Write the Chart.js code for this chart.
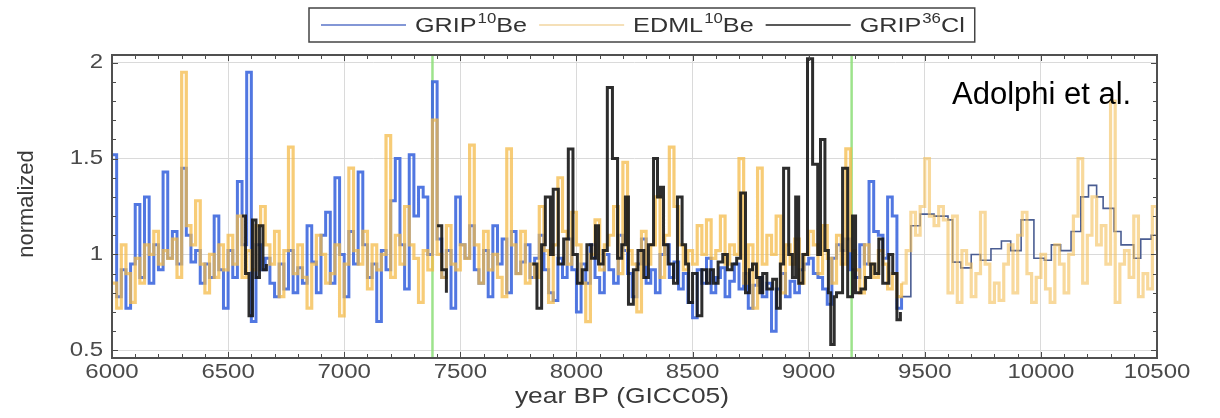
<!DOCTYPE html>
<html>
<head>
<meta charset="utf-8">
<script src="https://cdn.jsdelivr.net/npm/chart.js@4.4.1/dist/chart.umd.min.js"></script>
<style>
  html, body { margin: 0; padding: 0; background: #fff; }
  #wrap { width: 1220px; height: 418px; position: relative; }
</style>
</head>
<body>
<div id="wrap"><canvas id="cosmoChart" width="1220" height="418"></canvas></div>
<script>
// Tick positions
const xTicks = [6000, 6500, 7000, 7500, 8000, 8500, 9000, 9500, 10000, 10500];
const yTicks = [0.5, 1, 1.5, 2];
const markerYears = [7380, 9185];

// GRIP 10Be, [year BP, normalized]
const gripBe = [
  [6000,1.52],[6020,0.78],[6040,0.92],[6060,0.72],[6080,0.95],[6100,1.26],[6120,0.88],[6140,1.30],
  [6160,0.85],[6180,1.05],[6200,0.92],[6220,1.43],[6240,0.98],[6260,1.12],[6280,0.95],[6300,1.45],
  [6320,1.10],[6340,0.96],[6360,1.02],[6380,0.85],[6400,0.95],[6420,0.88],[6440,1.20],[6460,0.92],
  [6480,0.72],[6500,1.02],[6520,0.88],[6540,1.38],[6560,1.05],[6580,1.95],[6600,0.65],[6620,1.05],
  [6640,0.92],[6660,0.98],[6680,0.85],[6700,0.78],[6720,0.95],[6740,0.82],[6760,1.02],[6780,0.80],
  [6800,0.93],[6820,0.85],[6840,1.15],[6860,0.96],[6880,0.80],[6900,1.10],[6920,1.22],[6940,0.85],
  [6960,1.40],[6980,1.00],[7000,0.78],[7020,1.12],[7040,0.95],[7060,1.43],[7080,1.05],[7100,0.88],
  [7120,0.95],[7140,0.65],[7160,1.02],[7180,0.92],[7200,1.28],[7220,1.50],[7240,1.05],[7260,0.82],
  [7280,1.52],[7300,1.20],[7320,1.35],[7340,1.30],[7360,1.00],[7380,1.90],[7400,1.08],[7420,0.88],
  [7440,1.02],[7460,0.72],[7480,1.30],[7500,1.05],[7520,0.98],[7540,1.15],[7560,0.92],[7580,0.85],
  [7600,1.02],[7620,0.78],[7640,1.15],[7660,0.95],[7680,1.08],[7700,0.80],[7720,1.12],[7740,0.90],
  [7760,0.96],[7780,1.05],[7800,0.88],[7820,0.98],[7840,1.10],[7860,0.92],[7880,0.80],[7900,0.76],
  [7920,0.98],[7940,0.88],[7960,1.08],[7980,0.92],[8000,0.70],[8020,0.95],[8040,0.85],[8060,1.05],
  [8080,0.88],[8100,0.80],[8120,1.00],[8140,0.92],[8160,0.85],[8180,1.10],[8200,1.02],[8220,0.90],
  [8240,0.78],[8260,0.95],[8280,1.08],[8300,0.85],[8320,0.92],[8340,0.80],[8360,1.00],[8380,1.05],
  [8400,0.88],[8420,0.96],[8440,0.82],[8460,0.90],[8480,0.75],[8500,0.67],[8520,0.92],[8540,0.85],
  [8560,0.98],[8580,0.80],[8600,0.88],[8620,0.93],[8640,0.78],[8660,0.86],[8680,0.95],[8700,0.82],
  [8720,0.90],[8740,0.72],[8760,0.84],[8780,0.88],[8800,0.78],[8820,0.85],[8840,0.60],[8860,0.82],
  [8880,0.90],[8900,0.78],[8920,0.86],[8940,0.80],[8960,0.92],[8980,0.95],[9000,0.98],[9020,0.90],
  [9040,0.88],[9060,0.82],[9080,0.74],[9100,0.98],[9120,1.05],[9140,1.02],[9160,1.08],[9180,0.92],
  [9200,0.88],[9220,1.05],[9240,0.95],[9260,1.38],[9280,1.12],[9300,1.10],[9320,0.98],[9340,1.30],
  [9360,1.20],[9380,0.72],[9400,0.78],
  // lower resolution part
  [9440,1.15],[9480,1.21],[9540,1.20],[9600,1.18],[9620,0.96],[9655,0.93],[9700,1.00],[9740,0.97],
  [9785,1.03],[9830,1.07],[9870,1.02],[9915,1.18],[9970,0.98],[10015,0.97],[10045,1.05],[10085,1.02],
  [10130,1.12],[10172,1.30],[10205,1.36],[10240,1.30],[10268,1.24],[10315,1.12],[10345,1.05],
  [10400,0.98],[10430,1.08],[10475,1.10],[10500,1.10]
];

// EDML 10Be
const edmlBe = [
  [6000,0.85],[6020,0.72],[6040,1.05],[6060,0.90],[6080,0.75],[6100,0.98],[6120,0.85],[6140,1.05],
  [6160,1.00],[6180,1.12],[6200,0.95],[6220,1.02],[6240,0.98],[6260,1.08],[6280,0.88],[6300,1.95],
  [6320,1.15],[6340,1.05],[6360,1.28],[6380,0.95],[6400,0.80],[6420,1.00],[6440,0.88],[6460,1.05],
  [6480,0.92],[6500,1.10],[6520,0.95],[6540,1.20],[6560,0.88],[6580,1.02],[6600,0.92],[6620,1.15],
  [6640,1.25],[6660,1.05],[6680,0.95],[6700,1.12],[6720,0.78],[6740,1.02],[6760,1.56],[6780,0.90],
  [6800,1.05],[6820,0.88],[6840,0.72],[6860,0.95],[6880,1.10],[6900,1.00],[6920,0.85],[6940,0.90],
  [6960,1.05],[6980,0.68],[7000,0.95],[7020,1.45],[7040,1.02],[7060,0.95],[7080,1.12],[7100,0.82],
  [7120,1.05],[7140,0.92],[7160,1.00],[7180,1.62],[7200,0.88],[7220,1.10],[7240,0.95],[7260,1.25],
  [7280,1.05],[7300,0.98],[7320,0.75],[7340,1.02],[7360,0.92],[7380,1.70],[7400,1.00],[7420,0.88],
  [7440,1.15],[7460,0.95],[7480,0.92],[7500,1.05],[7520,0.98],[7540,1.57],[7560,1.05],[7580,0.85],
  [7600,1.12],[7620,0.92],[7640,1.00],[7660,0.88],[7680,0.78],[7700,1.55],[7720,1.05],[7740,0.90],
  [7760,1.12],[7780,0.85],[7800,0.95],[7820,0.88],[7840,1.25],[7860,1.02],[7880,0.75],[7900,1.05],
  [7920,1.40],[7940,1.12],[7960,0.95],[7980,1.22],[8000,1.05],[8020,0.85],[8040,0.65],[8060,1.00],
  [8080,1.18],[8100,0.92],[8120,1.05],[8140,1.10],[8160,1.25],[8180,0.90],[8200,1.48],[8220,1.02],
  [8240,0.95],[8260,0.70],[8280,1.12],[8300,0.95],[8320,1.05],[8340,1.30],[8360,0.88],[8380,1.10],
  [8400,1.56],[8420,1.25],[8440,1.05],[8460,0.92],[8480,1.02],[8500,0.95],[8520,1.15],[8540,1.00],
  [8560,1.18],[8580,0.98],[8600,1.02],[8620,1.20],[8640,0.95],[8660,1.05],[8680,1.00],[8700,1.50],
  [8720,0.85],[8740,1.05],[8760,0.72],[8780,1.45],[8800,0.95],[8820,1.10],[8840,1.00],[8860,1.20],
  [8880,0.80],[8900,1.05],[8920,0.95],[8940,1.08],[8960,0.85],[8980,1.00],[9000,1.12],[9020,1.05],
  [9040,0.90],[9060,1.15],[9080,0.98],[9100,0.85],[9120,1.10],[9140,0.95],[9160,1.55],[9180,1.02],
  [9200,0.92],[9220,0.80],[9240,1.05],[9260,0.95],[9280,0.88],[9300,1.02],[9320,0.95],[9340,0.82],
  [9360,0.90],[9380,0.78],[9400,0.85],[9420,1.02],[9440,1.22],[9460,1.10],[9480,1.25],[9500,1.50],
  [9520,1.20],[9540,1.15],[9560,1.25],[9580,1.18],[9600,0.80],[9620,1.20],[9640,0.75],[9660,1.02],
  [9680,0.95],[9700,0.78],[9720,0.90],[9740,1.22],[9760,0.95],[9780,0.75],[9800,0.85],[9820,0.76],
  [9840,0.95],[9860,1.05],[9880,0.80],[9900,1.10],[9920,1.22],[9940,0.90],[9960,0.75],[9980,0.88],
  [10000,1.00],[10020,0.82],[10040,0.75],[10060,1.05],[10080,0.95],[10100,0.80],[10120,1.00],[10140,1.20],
  [10160,1.50],[10180,0.85],[10200,1.10],[10220,1.30],[10240,1.05],[10260,1.15],[10280,0.95],[10300,1.80],
  [10320,0.75],[10340,0.95],[10360,1.02],[10380,0.88],[10400,1.20],[10420,0.78],[10440,0.90],[10460,0.82],
  [10480,1.25],[10500,1.02]
];

// GRIP 36Cl (null = gap)
const gripCl = [
  [6560,1.20],[6575,0.90],[6590,0.68],[6605,1.18],[6620,0.88],[6635,1.15],[6650,0.92],[6665,0.95],[6670,null],
  [7400,1.15],[7420,0.92],[7440,0.80],[7450,null],
  [7810,0.95],[7830,0.72],
  [7850,1.05],[7866,1.30],[7888,1.00],[7900,1.34],[7922,0.95],[7945,1.08],[7965,1.55],[7985,1.00],
  [8004,0.85],[8025,0.92],[8045,1.05],[8065,0.98],[8082,1.15],[8095,0.95],[8115,1.02],[8133,1.87],
  [8155,1.50],[8177,0.98],[8195,1.05],[8211,1.30],[8224,0.74],[8245,0.92],[8265,1.02],[8290,0.88],
  [8310,1.05],[8332,1.50],[8349,1.30],[8362,1.35],[8375,1.05],[8395,0.95],[8418,0.85],[8435,1.30],
  [8455,1.05],[8470,0.95],[8483,0.75],[8500,0.90],[8520,0.68],[8540,0.92],[8560,0.85],[8575,0.92],
  [8590,0.85],[8610,0.96],[8630,1.00],[8650,0.92],[8670,0.95],[8690,0.98],[8707,1.32],[8728,0.80],
  [8745,0.92],[8758,0.95],[8775,0.88],[8790,0.80],[8802,0.90],[8820,0.82],[8845,0.87],[8862,0.72],
  [8878,0.95],[8892,1.45],[8914,1.00],[8930,0.88],[8944,1.30],[8957,0.85],[8975,1.00],[8995,2.02],
  [9017,1.47],[9039,1.00],[9051,1.60],[9070,1.02],[9085,0.80],[9095,0.53],[9110,0.78],[9120,0.80],
  [9146,1.45],[9168,0.78],[9189,1.20],[9202,0.80],[9225,0.82],[9245,0.88],[9267,0.95],[9285,0.90],
  [9302,1.08],[9319,0.85],[9345,1.00],[9362,0.90],[9380,0.66],[9395,0.70]
];

// legend entries: [name, isotope mass number, element]
const legendItems = [['GRIP', '10', 'Be'], ['EDML', '10', 'Be'], ['GRIP', '36', 'Cl']];

const toPoints = arr => arr.map(p => ({ x: p[0], y: p[1] }));

const BLUE = 'rgba(62,104,222,0.9)';
const BLUE_THIN = '#4a5d92';
const ORANGE = 'rgba(244,186,72,0.74)';
const ORANGE_PALE = 'rgba(244,192,90,0.6)';
const BLACK = 'rgba(22,22,22,0.9)';
const LEGEND_COLORS = ['#5a74c8', 'rgba(238,200,130,0.75)', '#222'];
const FONT = '"Liberation Sans", Arial, sans-serif';
const SX = 1.2; // the original figure text is a bit wide

// text drawn a little wider than the font
function wideText(ctx, text, x, y, align, size, color) {
  ctx.save();
  ctx.font = size + 'px ' + FONT;
  ctx.fillStyle = color;
  ctx.textBaseline = 'middle';
  const w = ctx.measureText(text).width * SX;
  let left = x;
  if (align === 'center') left = x - w / 2;
  if (align === 'right') left = x - w;
  ctx.translate(left, y);
  ctx.scale(SX, 1);
  ctx.textAlign = 'left';
  ctx.fillText(text, 0, 0);
  ctx.restore();
  return w;
}

const decorPlugin = {
  id: 'decor',
  beforeDatasetsDraw(chart) {
    const { ctx, chartArea: a, scales: { x } } = chart;
    ctx.save();
    ctx.strokeStyle = 'rgba(140,222,120,0.85)';
    ctx.lineWidth = 2.5;
    markerYears.forEach(yr => {
      const px = x.getPixelForValue(yr);
      ctx.beginPath(); ctx.moveTo(px, a.top); ctx.lineTo(px, a.bottom); ctx.stroke();
    });
    ctx.restore();
  },
  afterDraw(chart) {
    const { ctx, chartArea: a, scales: { x, y } } = chart;
    ctx.save();
    // inward ticks on all four sides
    ctx.strokeStyle = '#4a4a4a';
    ctx.lineWidth = 1;
    ctx.beginPath();
    for (let v = 6000; v <= 10500; v += 100) {
      const px = Math.round(x.getPixelForValue(v)) + 0.5;
      const len = v % 500 === 0 ? 6 : 4;
      ctx.moveTo(px, a.bottom); ctx.lineTo(px, a.bottom - len);
      ctx.moveTo(px, a.top); ctx.lineTo(px, a.top + len);
    }
    for (let i = 5; i <= 20; i++) {
      const py = Math.round(y.getPixelForValue(i / 10)) + 0.5;
      const len = i % 5 === 0 ? 6 : 4;
      ctx.moveTo(a.left, py); ctx.lineTo(a.left + len, py);
      ctx.moveTo(a.right, py); ctx.lineTo(a.right - len, py);
    }
    ctx.stroke();
    ctx.lineWidth = 2;
    ctx.strokeStyle = '#505050';
    ctx.strokeRect(a.left, a.top, a.right - a.left, a.bottom - a.top);

    // tick labels and axis titles
    x.ticks.forEach(t => wideText(ctx, String(t.value), x.getPixelForValue(t.value), 372, 'center', 20, '#4a4a4a'));
    y.ticks.forEach(t => wideText(ctx, String(t.value), 103, y.getPixelForValue(t.value), 'right', 20, '#4a4a4a'));
    wideText(ctx, 'year BP (GICC05)', 622, 397, 'center', 22, '#3a3a3a');
    ctx.save();
    ctx.translate(27, 204);
    ctx.rotate(-Math.PI / 2);
    ctx.font = '22px ' + FONT;
    ctx.fillStyle = '#3a3a3a';
    ctx.textAlign = 'center';
    ctx.textBaseline = 'middle';
    ctx.fillText('normalized', 0, 0);
    ctx.restore();

    // legend with superscript mass numbers
    let cx = 321;
    const ly = 25;
    legendItems.forEach((it, i) => {
      ctx.strokeStyle = LEGEND_COLORS[i];
      ctx.lineWidth = 1.6;
      ctx.beginPath(); ctx.moveTo(cx, ly); ctx.lineTo(cx + 85, ly); ctx.stroke();
      cx += 94;
      cx += wideText(ctx, it[0], cx, ly + 1, 'left', 21, '#333');
      cx += wideText(ctx, it[1], cx + 1, ly - 6, 'left', 14, '#333') + 1;
      cx += wideText(ctx, it[2], cx, ly + 1, 'left', 21, '#333');
      cx += 12;
    });
    ctx.lineWidth = 1.5;
    ctx.strokeStyle = '#444';
    ctx.strokeRect(309, 8, cx - 2 - 309, 34);

    ctx.fillStyle = '#000';
    ctx.font = '31px ' + FONT;
    ctx.textBaseline = 'alphabetic';
    ctx.textAlign = 'left';
    ctx.fillText('Adolphi et al.', 952, 104);
    ctx.restore();
  }
};

new Chart(document.getElementById('cosmoChart'), {
  type: 'line',
  data: {
    datasets: [
      {
        label: 'GRIP\u00B9\u2070Be',
        data: toPoints(gripBe),
        borderColor: BLUE,
        borderWidth: 3,
        stepped: true,
        pointRadius: 0,
        order: 3,
        segment: {
          borderWidth: c => c.p0.parsed.x >= 9400 ? 1.6 : 3,
          borderColor: c => c.p0.parsed.x >= 9400 ? BLUE_THIN : BLUE
        }
      },
      {
        label: 'EDML\u00B9\u2070Be',
        data: toPoints(edmlBe),
        borderColor: ORANGE,
        borderWidth: 3.2,
        stepped: true,
        pointRadius: 0,
        order: 2,
        segment: {
          borderColor: c => c.p0.parsed.x >= 9400 ? ORANGE_PALE : ORANGE
        }
      },
      {
        label: 'GRIP\u00B3\u2076Cl',
        data: toPoints(gripCl),
        borderColor: BLACK,
        borderWidth: 3,
        stepped: true,
        pointRadius: 0,
        spanGaps: false,
        order: 1
      }
    ]
  },
  options: {
    responsive: false,
    animation: false,
    layout: { padding: { left: 112, right: 63, top: 55, bottom: 60 } },
    plugins: {
      tooltip: { enabled: false },
      legend: { display: false }
    },
    scales: {
      x: {
        type: 'linear',
        min: 6000,
        max: 10500,
        afterFit: s => { s.height = 0; },
        afterBuildTicks: s => { s.ticks = xTicks.map(v => ({ value: v })); },
        grid: { color: '#dadada', lineWidth: 1, drawTicks: false },
        border: { display: false },
        ticks: { display: false }
      },
      y: {
        min: 0.46,
        max: 2.04,
        afterFit: s => { s.width = 0; },
        afterBuildTicks: s => { s.ticks = yTicks.map(v => ({ value: v })); },
        grid: { color: '#dadada', lineWidth: 1, drawTicks: false },
        border: { display: false },
        ticks: { display: false }
      }
    }
  },
  plugins: [decorPlugin]
});
</script>
</body>
</html>
